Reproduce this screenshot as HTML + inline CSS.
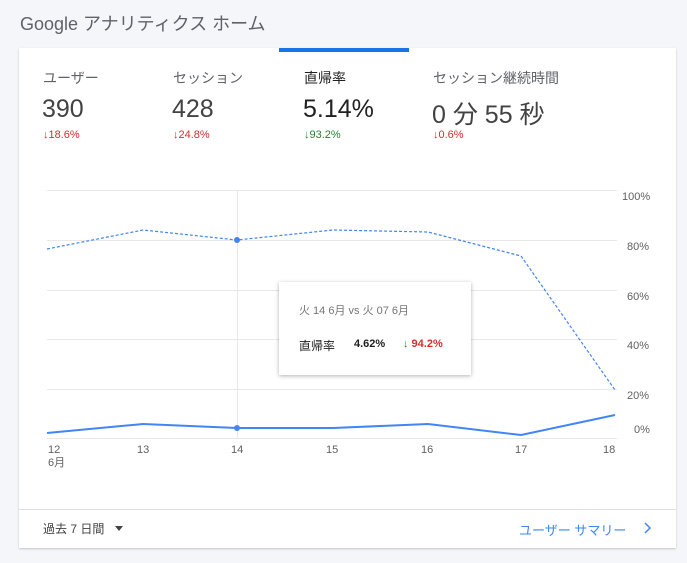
<!DOCTYPE html>
<html><head><meta charset="utf-8"><style>
body{margin:0;width:687px;height:563px;background:#f4f6f9;font-family:"Liberation Sans","Noto Sans CJK JP",sans-serif;position:relative;overflow:hidden;color:#212121}
.a{position:absolute;white-space:nowrap}
.card{position:absolute;left:19px;top:48px;width:657px;height:500px;background:#fff;box-shadow:0 1px 2px rgba(0,0,0,.2)}
.lab{font-size:14px;color:#5f6368}
.val{font-size:25px;color:#424242}
.red{color:#d32f2f;font-size:11px}
.grn{color:#2e7d32;font-size:11px}
.ax{font-size:11px;color:#616161}
</style></head><body>
<div class="a" style="left:20px;top:10px;font-size:18px;color:#5f6368">Google アナリティクス ホーム</div>
<div class="card"></div>
<div class="a" style="left:279px;top:48px;width:130px;height:4px;background:#1a73e8"></div>
<div class="a lab" style="left:43px;top:68px">ユーザー</div>
<div class="a lab" style="left:173px;top:68px">セッション</div>
<div class="a lab" style="left:304px;top:68px;color:#212121">直帰率</div>
<div class="a lab" style="left:433px;top:68px">セッション継続時間</div>
<div class="a val" style="left:42px;top:95px">390</div>
<div class="a val" style="left:172px;top:95px">428</div>
<div class="a val" style="left:303px;top:95px;color:#212121">5.14%</div>
<div class="a val" style="left:432px;top:95px">0 分 55 秒</div>
<div class="a red" style="left:43px;top:129px">↓18.6%</div>
<div class="a red" style="left:173px;top:129px">↓24.8%</div>
<div class="a grn" style="left:304px;top:129px">↓93.2%</div>
<div class="a red" style="left:433px;top:129px">↓0.6%</div>
<svg class="a" style="left:0;top:0" width="687" height="563">
<g stroke="#e8e8e8" stroke-width="1">
<line x1="47" y1="190.5" x2="617" y2="190.5"/><line x1="47" y1="240.5" x2="617" y2="240.5"/>
<line x1="47" y1="290.5" x2="617" y2="290.5"/><line x1="47" y1="339.5" x2="617" y2="339.5"/>
<line x1="47" y1="389.5" x2="617" y2="389.5"/><line x1="47" y1="438.5" x2="617" y2="438.5"/>
<line x1="237.5" y1="190" x2="237.5" y2="439"/>
</g>
<polyline fill="none" stroke="#4285f4" stroke-width="1.2" stroke-dasharray="3,2" points="47,249 143,230 237,240 333,230 428,232 521,256 615,390"/>
<polyline fill="none" stroke="#4285f4" stroke-width="2" points="47,433 143,424 237,428 333,428 428,424 521,435 615,415"/>
<circle cx="237" cy="240" r="3" fill="#4285f4"/><circle cx="237" cy="428" r="3" fill="#4285f4"/>
<line x1="19" y1="509.5" x2="676" y2="509.5" stroke="#e0e0e0"/>
<path d="M115 526l4 5 4-5z" fill="#424242"/>
<path d="M645 523l5 5-5 5" fill="none" stroke="#4285f4" stroke-width="1.5"/>
</svg>
<div class="a ax" style="left:622px;top:191px">100%</div>
<div class="a ax" style="left:627px;top:241px">80%</div>
<div class="a ax" style="left:627px;top:291px">60%</div>
<div class="a ax" style="left:627px;top:340px">40%</div>
<div class="a ax" style="left:627px;top:390px">20%</div>
<div class="a ax" style="left:634px;top:424px">0%</div>
<div class="a ax" style="left:48px;top:444px;line-height:13px">12<br>6月</div>
<div class="a ax" style="left:137px;top:444px">13</div>
<div class="a ax" style="left:231px;top:444px">14</div>
<div class="a ax" style="left:326px;top:444px">15</div>
<div class="a ax" style="left:421px;top:444px">16</div>
<div class="a ax" style="left:515px;top:444px">17</div>
<div class="a ax" style="left:603px;top:444px">18</div>
<div class="a" style="left:279px;top:282px;width:192px;height:93px;background:#fff;box-shadow:0 1px 4px rgba(0,0,0,.3)">
<div class="a" style="left:20px;top:20px;font-size:11px;color:#757575">火 14 6月 vs 火 07 6月</div>
<div class="a" style="left:20px;top:55px;font-size:12px;color:#212121">直帰率</div>
<div class="a" style="left:75px;top:56px;font-size:11px;font-weight:bold;color:#212121">4.62%</div>
<div class="a" style="left:124px;top:56px;font-size:11px;font-weight:bold;color:#d32f2f">↓ 94.2%</div>
</div>
<div class="a" style="left:43px;top:520px;font-size:12px;color:#424242">過去 7 日間</div>
<div class="a" style="left:519px;top:520px;font-size:13px;color:#4285f4">ユーザー サマリー</div>
</body></html>
